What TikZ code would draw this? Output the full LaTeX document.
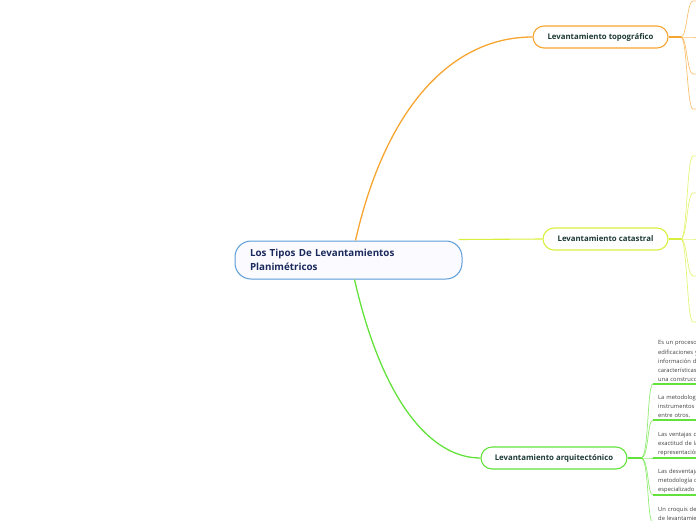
\documentclass[tikz,border=0pt]{standalone}
\usepackage{fontspec}
\setmainfont{Open Sans}
\usepackage{tikz}
\usetikzlibrary{positioning}
\definecolor{topo}{HTML}{F7A531}
\definecolor{cata}{HTML}{D9EF3E}
\definecolor{arqu}{HTML}{62E23A}
\definecolor{azul}{HTML}{5B9BD8}
\definecolor{tinta}{HTML}{1D3A35}
\definecolor{marino}{HTML}{1B2A5C}

\begin{document}
\begin{tikzpicture}[x=1pt, y=-1pt,
  rama/.style={draw, rounded corners=11pt, fill=white, line width=1.1pt, minimum height=22pt, inner xsep=0pt, font=\fontsize{7.8}{9}\selectfont\bfseries, text=tinta},
  hoja/.style={anchor=south west, align=left, text width=70pt, inner xsep=5pt, inner ysep=2pt, font=\fontsize{5.8}{9.2}\selectfont, text=black!75},
  liga/.style={line width=0.7pt, draw opacity=0.7}]
\clip (0,0) rectangle (696,520);

\node[draw=azul, fill=blue!2, rounded corners=16pt, line width=1pt, minimum width=227pt, minimum height=38pt, text width=197pt, inner xsep=0pt, align=left, font=\fontsize{9.8}{14}\selectfont\bfseries, text=marino] (centro) at (348.5,260) {Los Tipos De Levantamientos\\Planimétricos};

\node[rama, draw=topo, minimum width=135pt] (topografico) at (600.5,37) {Levantamiento topográfico};
\node[rama, draw=cata, minimum width=125pt] (catastral) at (605.5,239) {Levantamiento catastral};
\node[rama, draw=arqu, minimum width=146pt] (arquitectonico) at (554,458) {Levantamiento arquitectónico};

% puntos de ramificacion
\coordinate (ptopo) at (681,37);
\coordinate (pcata) at (681,239);
\coordinate (parq) at (641,458);

% lineas principales
\draw[topo, line width=1.3pt] ([xshift=7pt]centro.north) .. controls (385,110) and (450,37) .. (topografico.west);
\draw[cata, line width=1.1pt] ([xshift=-4pt,yshift=1pt]centro.north east) .. controls (500,239) .. (catastral.west);
\draw[arqu, line width=1.3pt] ([xshift=6pt]centro.south) .. controls (382,400) and (430,458) .. (arquitectonico.west);

% topografico
\draw[topo, line width=1.1pt] (topografico.east) -- (ptopo);
\foreach \y [count=\i] in {1,37,74,109} {
  \coordinate (t\i) at (693,\y);
  \draw[topo, liga] (ptopo) .. controls +(6,0) and +(-6,0) .. (t\i) -- ++(3,0);
}

% catastral
\draw[cata, line width=1.1pt] (catastral.east) -- (pcata);
\foreach \y [count=\i] in {156,193,239,276,322} {
  \coordinate (c\i) at (693,\y);
  \draw[cata, liga] (pcata) .. controls +(6,0) and +(-6,0) .. (c\i) -- ++(3,0);
}

% arquitectonico
\draw[arqu, line width=1.1pt] (arquitectonico.east) -- (parq);
\node[hoja] (h1) at (653,384) {Es un proceso de\\edificaciones y\\información de\\características de\\una construcción};
\node[hoja] (h2) at (653,420) {La metodología\\instrumentos y\\entre otros.};
\node[hoja] (h3) at (653,458) {Las ventajas de\\exactitud de la\\representación};
\node[hoja] (h4) at (653,495) {Las desventajas\\metodología de\\especializado};
\node[hoja] (h5) at (653,523) {Un croquis de\\de levantamiento};
\foreach \h in {h1,h2,h3,h4,h5} {
  \draw[arqu, liga] (parq) .. controls +(8,0) and +(-6,0) .. (\h.south west);
  \draw[arqu, line width=1.6pt] (\h.south west) -- (\h.south east);
}
\end{tikzpicture}
\end{document}
